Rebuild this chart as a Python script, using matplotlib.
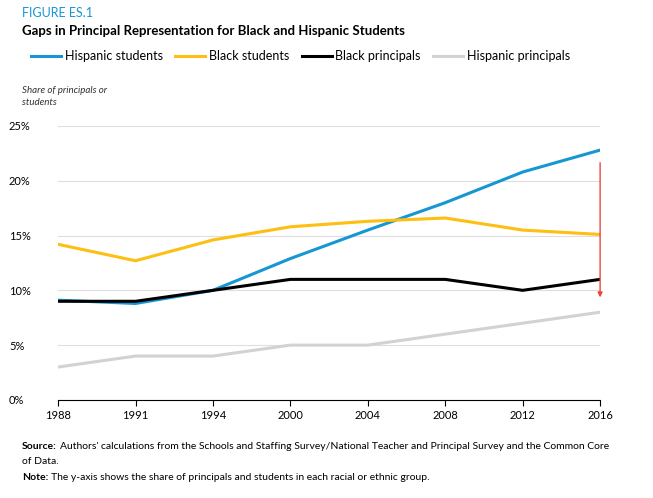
import matplotlib
matplotlib.use("Agg")
import matplotlib.pyplot as plt

plt.rcParams['font.family'] = ['Lato', 'DejaVu Sans']

years = ["1988", "1991", "1994", "2000", "2004", "2008", "2012", "2016"]
hisp_students = [9.1, 8.8, 10.0, 12.9, 15.5, 18.0, 20.8, 22.8]
black_students = [14.2, 12.7, 14.6, 15.8, 16.3, 16.6, 15.5, 15.1]
black_principals = [9, 9, 10, 11, 11, 11, 10, 11]
hisp_principals = [3, 4, 4, 5, 5, 6, 7, 8]
yticks = [0, 5, 10, 15, 20, 25]

fig = plt.figure(figsize=(6.53, 4.98), dpi=100)
ax = fig.add_axes([0.089, 0.197, 0.83, 0.55])
x = list(range(len(years)))
ax.plot(x, hisp_students, color="#1696d2", lw=2.2, label="Hispanic students")
ax.plot(x, black_students, color="#fdbf11", lw=2.2, label="Black students")
ax.plot(x, black_principals, color="#000000", lw=2.2, label="Black principals")
ax.plot(x, hisp_principals, color="#d2d2d2", lw=2.2, label="Hispanic principals")
ax.annotate("", xy=(7, 9.1), xytext=(7, 21.9),
            arrowprops=dict(arrowstyle="-|>", color="#e8473f", lw=1, mutation_scale=7))

ax.set_xlim(0, 7)
ax.set_ylim(0, 25)
ax.set_xticks(x)
ax.set_xticklabels(years, fontsize=8)
ax.set_yticks(yticks)
ax.set_yticklabels([f"{v}%" for v in yticks], fontsize=8)
ax.grid(axis='y', color="#dedede", lw=0.8)
ax.set_axisbelow(True)
for s in ["top", "right", "left"]:
    ax.spines[s].set_visible(False)
ax.tick_params(axis='y', length=0, pad=12)
ax.tick_params(axis='x', length=4, color="#000000")
for lbl in ax.get_yticklabels():
    lbl.set_horizontalalignment('left')
    lbl.set_x(-0.06)

fig.text(0.034, 0.965, "FIGURE ES.1", color="#1696d2", fontsize=9)
fig.text(0.034, 0.93, "Gaps in Principal Representation for Black and Hispanic Students",
         fontsize=9.5, fontweight='bold')
fig.legend(loc="upper left", bbox_to_anchor=(0.03, 0.922), ncol=4, frameon=False,
           fontsize=9, handlelength=2.4, columnspacing=1.0, handletextpad=0.3)
fig.text(0.034, 0.79, "Share of principals or\nstudents", fontsize=7, style='italic',
         color="#333333", linespacing=1.3)

renderer = fig.canvas.get_renderer()
def label_line(y, bold, rest):
    t = fig.text(0.034, y, bold, fontsize=7.5, fontweight='bold')
    bb = t.get_window_extent(renderer)
    fig.text((bb.x1 + 3) / fig.bbox.width, y, rest, fontsize=7.5)

label_line(0.098, "Source:", "Authors' calculations from the Schools and Staffing Survey/National Teacher and Principal Survey and the Common Core")
fig.text(0.034, 0.068, "of Data.", fontsize=7.5)
label_line(0.036, "Note:", "The y-axis shows the share of principals and students in each racial or ethnic group.")
fig.savefig("out.png", dpi=100)
